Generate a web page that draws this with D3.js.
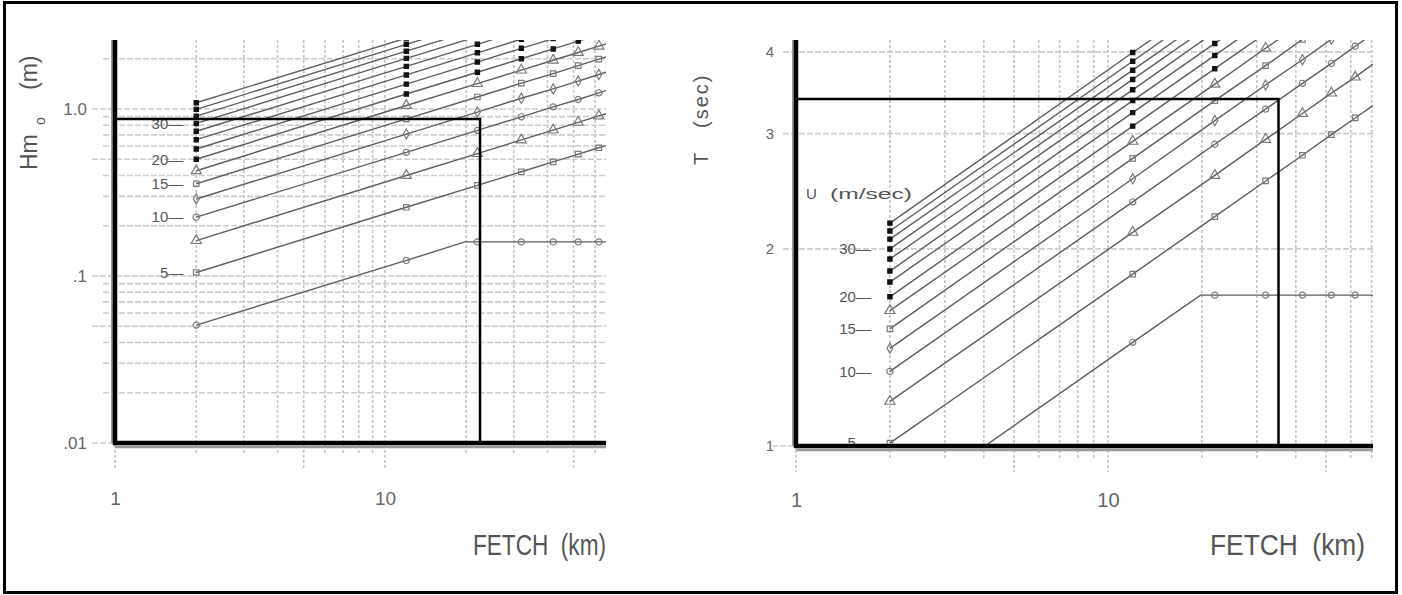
<!DOCTYPE html>
<html>
<head>
<meta charset="utf-8">
<script src="https://cdn.jsdelivr.net/npm/d3@7"></script>
<style>
  body { margin: 0; background: #fff; }
  svg { display: block; }
  text { font-family: "Liberation Sans", Arial, sans-serif; white-space: pre; }
</style>
</head>
<body>
<svg id="chart" width="1402" height="595"></svg>
<script>
// fetch columns where the curves carry a marker (km)
const fetchKm = [2, 12, 22, 32, 42, 52, 62];
// wind speed of each curve (m/sec), bottom curve first
const windU = [2.5, 5, 7.5, 10, 12.5, 15, 17.5, 20, 22.5, 25, 27.5, 30, 32.5, 35, 37.5];
const labelledU = [5, 10, 15, 20, 30];

// Hm0 (m) read at each fetch column, one row per wind speed
const hm0 = [
  [0.0508, 0.124, 0.160, 0.160, 0.160, 0.160, 0.160],
  [0.105, 0.258, 0.349, 0.421, 0.482, 0.537, 0.586],
  [0.163, 0.400, 0.541, 0.653, 0.748, 0.832, 0.909],
  [0.225, 0.550, 0.745, 0.898, 1.03, 1.14, 1.25],
  [0.289, 0.708, 0.959, 1.16, 1.32, 1.47, 1.61],
  [0.357, 0.873, 1.18, 1.43, 1.63, 1.82, 1.99],
  [0.427, 1.05, 1.42, 1.71, 1.96, 2.18, 2.38],
  [0.500, 1.23, 1.66, 2.00, 2.29, 2.55, 2.79],
  [0.576, 1.41, 1.91, 2.31, 2.64, 2.94, 3.21],
  [0.655, 1.60, 2.17, 2.62, 3.00, 3.34, 3.65],
  [0.736, 1.80, 2.44, 2.95, 3.37, 3.76, 4.10],
  [0.820, 2.01, 2.72, 3.28, 3.76, 4.18, 4.57],
  [0.907, 2.22, 3.01, 3.63, 4.15, 4.62, 5.05],
  [0.995, 2.44, 3.30, 3.98, 4.56, 5.07, 5.54],
  [1.09, 2.66, 3.60, 4.34, 4.98, 5.54, 6.05]
];
// Hm0 where each curve meets the right edge (65.9 km)
const hm0Edge = [0.160, 0.604, 0.937, 1.29, 1.66, 2.05, 2.45, 2.87, 3.31, 3.76, 4.23, 4.71, 5.20, 5.71, 6.23];

// T (sec) read at each fetch column
const tp = [
  [0.791, 1.44, 1.70, 1.70, 1.70, 1.70, 1.70],
  [1.01, 1.83, 2.24, 2.54, 2.78, 2.99, 3.17],
  [1.17, 2.12, 2.59, 2.94, 3.22, 3.46, 3.66],
  [1.30, 2.36, 2.89, 3.27, 3.58, 3.84, 4.08],
  [1.41, 2.56, 3.14, 3.56, 3.89, 4.18, 4.43],
  [1.51, 2.75, 3.37, 3.81, 4.18, 4.48, 4.75],
  [1.61, 2.92, 3.57, 4.05, 4.43, 4.76, 5.05],
  [1.69, 3.08, 3.77, 4.27, 4.68, 5.02, 5.32],
  [1.78, 3.23, 3.95, 4.48, 4.90, 5.26, 5.58],
  [1.85, 3.37, 4.12, 4.67, 5.11, 5.49, 5.82],
  [1.93, 3.50, 4.29, 4.86, 5.32, 5.71, 6.06],
  [2.00, 3.63, 4.44, 5.04, 5.51, 5.92, 6.28],
  [2.07, 3.75, 4.59, 5.21, 5.70, 6.12, 6.49],
  [2.13, 3.87, 4.74, 5.37, 5.88, 6.31, 6.69],
  [2.19, 3.99, 4.88, 5.53, 6.05, 6.50, 6.89]
];
// T where each curve meets the right edge (70.7 km)
const tpEdge = [1.70, 3.31, 3.83, 4.26, 4.63, 4.97, 5.28, 5.56, 5.83, 6.08, 6.33, 6.56, 6.78, 6.99, 7.20];

// the 2.5 m/sec curve levels off (fully developed) at about 20 km
const levelOff = { u: 2.5, fetch: 19.8, hm0: 0.160, tp: 1.70 };

// read-off lines drawn on each chart
const hm0Pick = { fetch: 22.5, value: 0.87 };
const tpPick = { fetch: 35.2, value: 3.39 };

const hm0Ticks = [0.01, 0.1, 1];
const hm0TickText = [".01", ".1", "1.0"];
const tpTicks = [1, 2, 3, 4];
const fetchTicks = [1, 10];

const svg = d3.select("#chart");

svg.append("rect")
  .attr("x", 4.5).attr("y", 2.5)
  .attr("width", 1392).attr("height", 590)
  .attr("fill", "none").attr("stroke", "#000").attr("stroke-width", 3);

// 1 and 5 of every decade get the longer grid stubs
function isMajor(v) {
  var lead = Math.round(v / Math.pow(10, Math.floor(Math.log10(v) + 1e-9)));
  return lead === 1 || lead === 5;
}

const symbols = [d3.symbolCircle, d3.symbolSquare, d3.symbolTriangle, d3.symbolCircle,
  d3.symbolDiamond, d3.symbolSquare, d3.symbolTriangle];

function drawPanel(p) {
  var x = d3.scaleLog().domain([1, p.fetchMax]).range([p.left, p.right]);
  var y = d3.scaleLog().domain(p.yDomain).range([p.bottom, p.top]);
  var g = svg.append("g");

  svg.append("clipPath").attr("id", "clip-" + p.id)
    .append("rect")
    .attr("x", p.left).attr("y", p.top)
    .attr("width", p.right - p.left).attr("height", p.bottom - p.top);

  // grid
  g.selectAll(".vgrid").data(x.ticks()).enter().append("line")
    .attr("x1", d => x(d)).attr("x2", d => x(d))
    .attr("y1", p.top)
    .attr("y2", d => p.bottom + (isMajor(d) ? p.stubLong : p.stubShort))
    .attr("stroke", "#c4c4c4").attr("stroke-width", 1.6)
    .attr("stroke-dasharray", "3,2");
  g.selectAll(".hgrid").data(p.yGrid || y.ticks()).enter().append("line")
    .attr("y1", d => y(d)).attr("y2", d => y(d))
    .attr("x1", d => p.left - (isMajor(d) ? p.stubLong - 2 : p.stubShort))
    .attr("x2", p.right)
    .attr("stroke", "#cdcdcd").attr("stroke-width", 1.6)
    .attr("stroke-dasharray", "6,2");

  // curves
  var line = d3.line().x(d => x(d[0])).y(d => y(d[1]));
  var curves = windU.map((u, i) => {
    var pts = fetchKm.map((f, j) => [f, p.values[i][j]]);
    if (u === levelOff.u) pts.push([levelOff.fetch, levelOff[p.key]]);
    pts.push([p.fetchMax, p.edge[i]]);
    pts.sort((a, b) => a[0] - b[0]);
    return { u: u, i: i, pts: pts };
  });

  var plot = g.append("g").attr("clip-path", "url(#clip-" + p.id + ")");
  plot.selectAll(".curve").data(curves).enter().append("path")
    .attr("d", d => line(d.pts))
    .attr("fill", "none").attr("stroke", "#5e5e5e").attr("stroke-width", 1.4);

  var marks = [];
  windU.forEach((u, i) => {
    fetchKm.forEach((f, j) => marks.push({ i: i, f: f, v: p.values[i][j] }));
  });
  plot.selectAll(".mark").data(marks).enter().append("path")
    .attr("transform", d => "translate(" + x(d.f) + "," + y(d.v) + ")")
    .attr("d", d => {
      if (d.i >= 7) return d3.symbol(d3.symbolSquare, 18)();
      var s = symbols[d.i];
      return d3.symbol(s, s === d3.symbolTriangle ? 44 : 30)();
    })
    .attr("fill", d => d.i >= 7 ? "#111" : "none")
    .attr("stroke", d => d.i >= 7 ? "#111" : "#7a7a7a")
    .attr("stroke-width", 1.2);

  // wind speed labels next to the first column
  g.selectAll(".ulabel").data(labelledU).enter().append("text")
    .attr("x", x(fetchKm[0]) - p.labelGap)
    .attr("y", d => y(p.values[windU.indexOf(d)][0]))
    .attr("dy", "0.35em")
    .attr("text-anchor", "end")
    .attr("font-size", 15).attr("fill", "#555")
    .text(d => d + "\u2014");

  // axes
  var xAxis = g.append("g")
    .attr("transform", "translate(0," + p.xTickY + ")")
    .call(d3.axisBottom(x).tickValues(fetchTicks).tickSize(0).tickPadding(0)
      .tickFormat(d3.format("d")));
  xAxis.select(".domain").remove();
  xAxis.selectAll("text").attr("font-size", p.xTickSize).attr("fill", "#666")
    .attr("dy", 0).attr("font-family", null);

  var yAxis = g.append("g")
    .attr("transform", "translate(" + p.yTickX + ",0)")
    .call(d3.axisLeft(y).tickValues(p.yTicks).tickSize(0).tickPadding(0)
      .tickFormat((d, i) => p.yTickText[i]));
  yAxis.select(".domain").remove();
  yAxis.selectAll("text").attr("font-size", p.yTickSize).attr("fill", "#666")
    .attr("font-family", null);

  g.append("line")
    .attr("x1", p.left - 3).attr("x2", p.left - 3)
    .attr("y1", p.top).attr("y2", p.bottom)
    .attr("stroke", "#999").attr("stroke-width", 2);
  g.append("line")
    .attr("x1", p.left).attr("x2", p.right)
    .attr("y1", p.bottom + 4).attr("y2", p.bottom + 4)
    .attr("stroke", "#999").attr("stroke-width", 2.5);
  g.append("line")
    .attr("x1", p.left).attr("x2", p.left)
    .attr("y1", p.top).attr("y2", p.bottom + 2)
    .attr("stroke", "#000").attr("stroke-width", 4.5);
  g.append("line")
    .attr("x1", p.left - 2).attr("x2", p.right)
    .attr("y1", p.bottom).attr("y2", p.bottom)
    .attr("stroke", "#000").attr("stroke-width", 4.5);

  // read-off lines
  g.append("path")
    .attr("d", "M" + p.left + "," + y(p.pick.value) +
      "H" + x(p.pick.fetch) + "V" + p.bottom)
    .attr("fill", "none").attr("stroke", "#000").attr("stroke-width", 2.5);

  g.append("text")
    .attr("x", p.titleX).attr("y", 555)
    .attr("font-size", 30).attr("fill", "#555")
    .attr("textLength", p.titleLen).attr("lengthAdjust", "spacingAndGlyphs")
    .text("FETCH  (km)");

  return { x: x, y: y, g: g };
}

var left = drawPanel({
  id: "h", key: "hm0", values: hm0, edge: hm0Edge, pick: hm0Pick,
  left: 115, right: 606, top: 40, bottom: 443,
  fetchMax: 65.9, yDomain: [0.01, 2.59],
  yTicks: hm0Ticks, yTickText: hm0TickText,
  stubShort: 12, stubLong: 25,
  labelGap: 13, xTickY: 505, xTickSize: 19, yTickX: 87, yTickSize: 17,
  titleX: 473, titleLen: 133
});

var right = drawPanel({
  id: "t", key: "tp", values: tp, edge: tpEdge, pick: tpPick,
  left: 796, right: 1373, top: 40, bottom: 446,
  fetchMax: 70.7, yDomain: [1, 4.17], yGrid: tpTicks,
  yTicks: tpTicks, yTickText: tpTicks.map(String),
  stubShort: 13, stubLong: 26,
  labelGap: 19, xTickY: 507, xTickSize: 20, yTickX: 774, yTickSize: 15,
  titleX: 1210, titleLen: 155
});

// y titles
var hTitle = svg.append("text")
  .attr("transform", "translate(37,170) rotate(-90)")
  .attr("font-size", 23).attr("fill", "#555");
hTitle.append("tspan").attr("x", 0).text("Hm");
hTitle.append("tspan").attr("x", 45).attr("dy", 8).attr("font-size", 14).text("o");
hTitle.append("tspan").attr("x", 80).attr("dy", -8).text("(m)");

var tTitle = svg.append("text")
  .attr("transform", "translate(708,165) rotate(-90)")
  .attr("font-size", 20).attr("fill", "#555");
tTitle.append("tspan").attr("x", 0).text("T");
tTitle.append("tspan").attr("x", 37).attr("letter-spacing", 2).text("(sec)");

svg.append("text")
  .attr("x", 806).attr("y", 199)
  .attr("font-size", 15).attr("fill", "#555")
  .text("U");
svg.append("text")
  .attr("x", 830).attr("y", 199)
  .attr("font-size", 15).attr("fill", "#555")
  .attr("textLength", 82).attr("lengthAdjust", "spacingAndGlyphs")
  .text("(m/sec)");
</script>
</body>
</html>
